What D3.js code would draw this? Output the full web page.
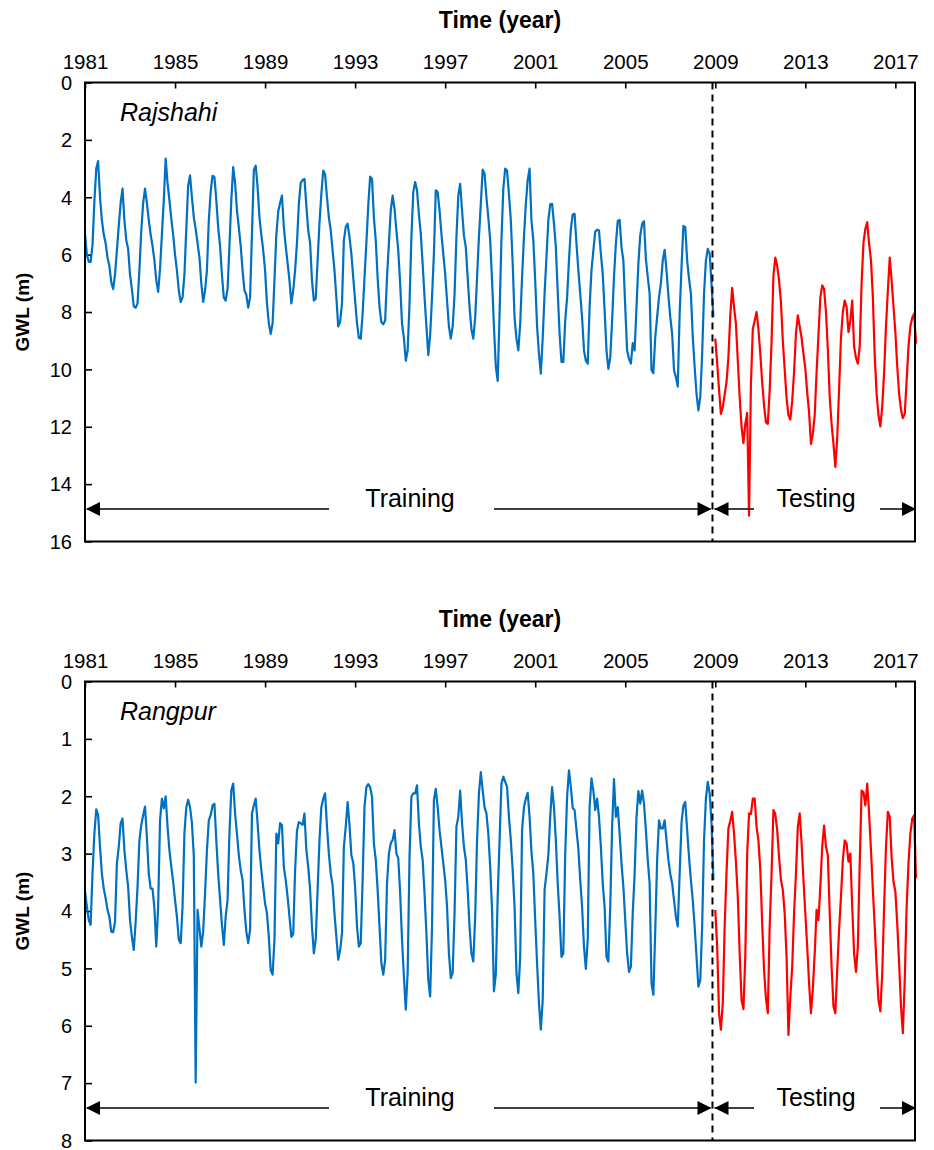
<!DOCTYPE html>
<html><head><meta charset="utf-8">
<script src="https://cdn.jsdelivr.net/npm/d3@7"></script>
<style>
body{margin:0;background:#fff}
svg{display:block}
text{font-family:"Liberation Sans",Arial,Helvetica,sans-serif;fill:#000}
</style>
</head><body>
<svg id="chart" width="934" height="1150"></svg>
<script>
// ---------------- data (monthly GWL, m below ground) ----------------
const yearTicks = [1981,1985,1989,1993,1997,2001,2005,2009,2013,2017];
const rajshahiYTicks = [0,2,4,6,8,10,12,14,16];
const rangpurYTicks = [0,1,2,3,4,5,6,7,8];

// Rajshahi, Jan 1981 - Dec 2008 (training)
const rajshahiTraining = [
5.3,6.0,6.25,6.25,5.67,4.15,3.0,2.74,4.0,4.8,5.3,5.6,
6.1,6.4,6.96,7.2,6.7,5.85,5.0,4.2,3.7,4.8,5.5,5.8,
6.7,7.2,7.8,7.85,7.7,6.55,5.16,4.2,3.7,4.2,4.8,5.3,
5.7,6.2,6.9,7.3,6.5,5.3,4.1,2.65,3.5,4.1,4.75,5.3,
6.0,6.55,7.25,7.65,7.5,6.7,5.1,3.6,3.24,4.0,4.7,5.1,
5.6,6.1,7.0,7.65,7.25,6.55,4.8,3.8,3.25,3.3,4.1,5.05,
5.7,6.7,7.5,7.6,7.2,5.7,4.1,2.95,3.5,4.45,5.05,5.7,
6.55,7.25,7.4,7.85,7.5,5.3,3.05,2.9,3.65,4.7,5.3,5.85,
6.55,7.7,8.4,8.76,8.4,6.9,5.3,4.5,4.2,3.94,5.05,5.7,
6.3,6.9,7.7,7.25,6.55,5.6,4.23,3.5,3.4,3.36,4.3,5.16,
5.6,6.9,7.6,7.54,6.2,4.9,3.88,3.07,3.2,4.0,4.7,5.16,
5.85,6.55,7.5,8.5,8.35,7.7,5.5,5.04,4.92,5.39,5.97,6.8,
7.6,8.4,8.9,8.93,8.06,6.8,5.6,4.3,3.28,3.36,4.7,5.5,
6.8,7.83,8.35,8.43,8.3,6.8,5.6,4.46,3.94,4.4,5.16,5.85,
7.0,8.4,8.9,9.7,9.34,7.7,5.39,3.82,3.47,3.76,4.6,5.27,
6.32,7.48,8.5,9.5,8.8,7.48,5.97,3.76,3.82,4.46,5.27,5.97,
6.67,7.6,8.5,8.93,8.5,7.4,5.39,3.94,3.53,4.46,5.33,5.74,
6.8,7.83,8.6,8.93,8.2,6.8,5.39,4.23,3.04,3.18,4.0,4.7,
5.5,6.9,8.5,9.9,10.4,8.06,5.5,3.7,3.0,3.07,3.88,4.8,
6.32,8.2,8.93,9.34,8.41,6.78,5.39,4.23,3.4,3.0,4.81,5.5,
6.9,8.5,9.46,10.15,8.9,7.36,6.09,4.81,4.25,4.23,4.92,5.74,
7.3,8.76,9.74,9.74,8.3,7.5,6.2,5.1,4.6,4.58,5.62,6.55,
7.36,8.2,9.34,9.7,9.8,7.83,6.55,5.85,5.2,5.13,5.16,5.97,
6.67,7.95,9.34,9.98,9.6,8.3,6.78,5.62,4.83,4.79,5.74,6.2,
7.83,9.34,9.63,9.8,9.08,9.34,7.83,6.32,5.33,4.93,4.83,6.15,
6.78,7.36,10.03,10.13,8.87,8.18,7.48,7.0,6.2,5.83,6.55,7.42,
8.18,8.76,10.03,10.27,10.6,8.06,6.43,5.0,5.04,6.2,6.84,7.36,
8.87,9.92,10.85,11.43,10.96,9.46,7.36,6.2,5.8,5.97,7.02,8.18
];
// Rajshahi, Jan 2009 - Dec 2017 (testing)
const rajshahiTesting = [
8.93,9.77,10.7,11.55,11.32,10.87,10.44,9.57,8.12,7.16,7.83,8.41,
9.69,10.97,12.0,12.57,11.9,11.52,15.1,10.5,8.6,8.3,8.0,8.6,
9.45,10.45,11.26,11.84,11.9,10.74,9.05,6.73,6.1,6.39,6.9,7.65,
9.0,10.0,11.0,11.6,11.75,11.1,10.1,8.76,8.12,8.5,8.9,9.45,
9.97,10.8,11.5,12.6,12.25,11.6,10.1,8.8,7.5,7.07,7.2,8.0,
9.3,10.96,11.9,12.6,13.4,12.4,10.7,8.9,8.0,7.6,7.83,8.7,
8.3,7.6,9.2,9.6,9.8,9.2,7.0,5.57,5.1,4.87,5.62,6.2,
7.48,9.53,10.85,11.6,11.99,11.3,10.1,8.5,7.25,6.1,6.9,7.8,
8.7,9.9,10.85,11.4,11.7,11.55,10.4,9.2,8.5,8.2,8.06,9.1
];
// Rangpur, Jan 1981 - Dec 2008 (training)
const rangpurTraining = [
3.66,3.92,4.16,4.24,3.35,2.65,2.23,2.33,2.88,3.35,3.61,3.78,
3.98,4.1,4.36,4.37,4.19,3.17,2.88,2.47,2.39,2.94,3.29,3.58,
4.16,4.45,4.68,4.19,3.58,2.77,2.5,2.33,2.18,2.71,3.35,3.61,
3.61,3.95,4.62,3.92,2.42,2.04,2.21,2.0,2.53,2.94,3.23,3.49,
3.81,4.1,4.5,4.56,3.93,2.65,2.19,2.06,2.19,2.47,3.03,6.99,
3.98,4.3,4.62,4.36,3.69,2.94,2.42,2.33,2.16,2.13,2.77,3.35,
3.8,4.24,4.59,4.1,3.81,2.65,1.9,1.78,2.3,2.65,3.03,3.29,
3.46,3.98,4.36,4.56,4.33,2.3,2.16,2.04,2.47,2.94,3.29,3.58,
3.87,4.04,4.45,5.03,5.11,4.5,2.65,2.82,2.47,2.5,3.23,3.46,
3.75,4.1,4.45,4.4,3.3,2.6,2.45,2.47,2.5,2.3,2.94,3.23,
3.63,4.27,4.74,4.5,3.63,2.77,2.19,2.04,1.95,2.53,3.0,3.35,
3.55,4.04,4.45,4.85,4.68,4.39,2.88,2.53,2.1,2.5,3.03,3.16,
3.58,4.27,4.62,4.56,3.46,2.19,1.84,1.79,1.84,2.01,2.82,3.11,
3.63,4.27,4.91,5.11,4.85,3.52,3.0,2.82,2.76,2.59,3.0,3.08,
3.69,4.5,5.14,5.72,5.08,3.06,2.01,1.95,1.95,1.81,2.47,2.88,
3.11,3.69,4.39,5.2,5.49,4.27,2.07,1.87,2.19,2.59,2.88,3.17,
3.46,3.92,4.74,5.17,5.08,4.04,2.53,2.36,1.9,2.47,2.88,3.11,
3.63,4.27,4.74,4.88,4.1,2.77,1.95,1.58,1.9,2.19,2.3,2.65,
3.23,3.98,5.4,5.1,3.75,2.77,1.78,1.66,1.75,1.84,2.36,2.77,
3.29,3.93,5.08,5.43,4.8,2.59,2.19,2.04,1.94,2.36,2.97,3.35,
4.16,4.91,5.61,6.07,5.55,3.63,3.35,3.03,2.36,1.84,2.19,2.77,
3.52,4.1,4.8,4.74,3.0,2.01,1.55,1.84,2.21,2.24,2.59,2.91,
3.46,3.93,4.62,5.01,4.5,2.19,1.69,1.9,2.24,2.04,2.36,2.88,
3.52,3.93,4.8,4.88,3.93,2.53,1.7,2.36,2.19,2.65,3.17,3.58,
4.16,4.74,5.06,4.97,4.04,3.35,2.36,1.91,2.13,1.9,2.13,2.59,
3.11,3.52,5.26,5.46,4.33,3.11,2.42,2.56,2.56,2.42,2.77,3.11,
3.35,3.52,3.81,4.1,4.27,3.35,2.47,2.16,2.1,2.59,3.06,3.46,
3.81,4.27,4.8,5.32,5.2,4.27,2.77,2.04,1.75,1.95,2.47,3.46
];
// Rangpur, Jan 2009 - Dec 2017 (testing)
const rangpurTesting = [
3.98,4.62,5.78,6.07,5.61,4.27,3.32,2.56,2.43,2.27,2.65,3.14,
3.75,4.74,5.55,5.71,4.8,3.0,2.3,2.31,2.04,2.04,2.53,2.77,
3.29,4.21,5.03,5.52,5.78,4.27,3.35,2.24,2.31,2.59,3.06,3.46,
3.63,4.04,4.8,6.16,5.5,4.97,4.04,3.35,2.53,2.3,2.82,3.46,
4.04,4.62,5.26,5.78,5.36,4.74,3.98,4.16,3.58,2.88,2.51,2.88,
3.03,4.04,4.97,5.66,5.78,5.03,4.33,3.75,3.11,2.77,2.82,3.14,
3.0,3.93,4.74,5.06,4.62,3.17,1.9,1.93,2.16,1.78,2.3,2.94,
3.63,4.27,4.97,5.55,5.75,5.09,3.93,2.88,2.27,2.36,3.06,3.49,
3.66,4.22,4.91,5.66,6.13,5.2,3.93,3.17,2.65,2.39,2.33,3.43
];

// ---------------- drawing ----------------
const svg = d3.select("#chart");
const nMonths = rajshahiTraining.length + rajshahiTesting.length; // 444
const x = d3.scaleLinear().domain([0, nMonths - 1]).range([85, 916]);
const plotLeft = 85, plotRight = 915;
const divX = x(334.5);

const panels = [
  {name:"Rajshahi", train:rajshahiTraining, test:rajshahiTesting, yMax:16, yTicks:rajshahiYTicks, top:82.5, bottom:541.5},
  {name:"Rangpur",  train:rangpurTraining,  test:rangpurTesting,  yMax:8,  yTicks:rangpurYTicks,  top:681.5, bottom:1140.5}
];

function arrowHead(g, tipX, y, dir){ // dir: -1 points left, +1 points right
  const L = 14, h = 7;
  g.append("path")
    .attr("d", `M${tipX},${y} L${tipX - dir*L},${y - h} L${tipX - dir*L},${y + h} Z`)
    .attr("fill", "#000");
}

panels.forEach(p => {
  const off = p.top - 82.5;
  const y = d3.scaleLinear().domain([0, p.yMax]).range([p.top, p.bottom]);
  const g = svg.append("g");

  // axis title
  g.append("text").attr("x", 500).attr("y", 28 + off).attr("text-anchor", "middle")
    .attr("font-size", 23).attr("font-weight", "bold").text("Time (year)");

  // top (time) axis
  const xa = g.append("g").attr("transform", `translate(0,${p.top})`)
    .call(d3.axisTop(x)
      .tickValues(yearTicks.map(yr => (yr - 1981) * 12))
      .tickFormat(v => String(1981 + v / 12))
      .tickSizeInner(-6).tickSizeOuter(0).tickPadding(14));
  xa.select(".domain").remove();
  xa.selectAll(".tick line").attr("stroke", "#000").attr("stroke-width", 1.6);
  xa.selectAll(".tick text").attr("font-size", 20.5).attr("font-family", "Liberation Sans, Arial, sans-serif");

  // left (GWL) axis
  const ya = g.append("g").attr("transform", `translate(${plotLeft},0)`)
    .call(d3.axisLeft(y).tickValues(p.yTicks).tickFormat(d3.format("d"))
      .tickSizeInner(-7).tickSizeOuter(0).tickPadding(13));
  ya.select(".domain").remove();
  ya.selectAll(".tick line").attr("stroke", "#000").attr("stroke-width", 1.6);
  ya.selectAll(".tick text").attr("font-size", 20).attr("dy", "0.34em")
    .attr("font-family", "Liberation Sans, Arial, sans-serif");

  // y title
  g.append("text")
    .attr("transform", `translate(29,${(p.top + p.bottom) / 2}) rotate(-90)`)
    .attr("text-anchor", "middle").attr("font-size", 19).attr("font-weight", "bold")
    .text("GWL (m)");

  // series lines
  const line = d3.line().x(d => x(d.i)).y(d => y(d.v)).curve(d3.curveLinear);
  const trainData = p.train.map((v, i) => ({i, v}));
  const testData = p.test.map((v, i) => ({i: i + p.train.length, v}));
  g.append("path").datum(trainData).attr("d", line)
    .attr("fill", "none").attr("stroke", "#0070C0").attr("stroke-width", 2.2)
    .attr("stroke-linejoin", "round");
  g.append("path").datum(testData).attr("d", line)
    .attr("fill", "none").attr("stroke", "#FF0000").attr("stroke-width", 2.2)
    .attr("stroke-linejoin", "round");

  // frame
  g.append("rect").attr("x", plotLeft).attr("y", p.top)
    .attr("width", plotRight - plotLeft).attr("height", p.bottom - p.top)
    .attr("fill", "none").attr("stroke", "#000").attr("stroke-width", 2);

  // divider
  g.append("line").attr("x1", divX).attr("x2", divX).attr("y1", p.top).attr("y2", p.bottom)
    .attr("stroke", "#000").attr("stroke-width", 2).attr("stroke-dasharray", "7,5");

  // station label
  g.append("text").attr("x", 120).attr("y", 121 + off)
    .attr("font-size", 25).attr("font-style", "italic").text(p.name);

  // training / testing annotation
  const ay = 509 + off;
  const ann = g.append("g");
  ann.append("line").attr("x1", plotLeft + 2).attr("x2", 329).attr("y1", ay).attr("y2", ay)
    .attr("stroke", "#000").attr("stroke-width", 1.6);
  ann.append("line").attr("x1", 494).attr("x2", divX - 2).attr("y1", ay).attr("y2", ay)
    .attr("stroke", "#000").attr("stroke-width", 1.6);
  arrowHead(ann, plotLeft + 1, ay, -1);
  arrowHead(ann, divX - 1, ay, 1);
  ann.append("text").attr("x", 410).attr("y", ay - 2.5).attr("text-anchor", "middle")
    .attr("font-size", 25).text("Training");

  ann.append("line").attr("x1", divX + 2).attr("x2", 754).attr("y1", ay).attr("y2", ay)
    .attr("stroke", "#000").attr("stroke-width", 1.6);
  ann.append("line").attr("x1", 880).attr("x2", plotRight).attr("y1", ay).attr("y2", ay)
    .attr("stroke", "#000").attr("stroke-width", 1.6);
  arrowHead(ann, divX + 2, ay, -1);
  arrowHead(ann, plotRight + 1, ay, 1);
  ann.append("text").attr("x", 816).attr("y", ay - 2.5).attr("text-anchor", "middle")
    .attr("font-size", 25).text("Testing");
});
</script>
</body></html>
